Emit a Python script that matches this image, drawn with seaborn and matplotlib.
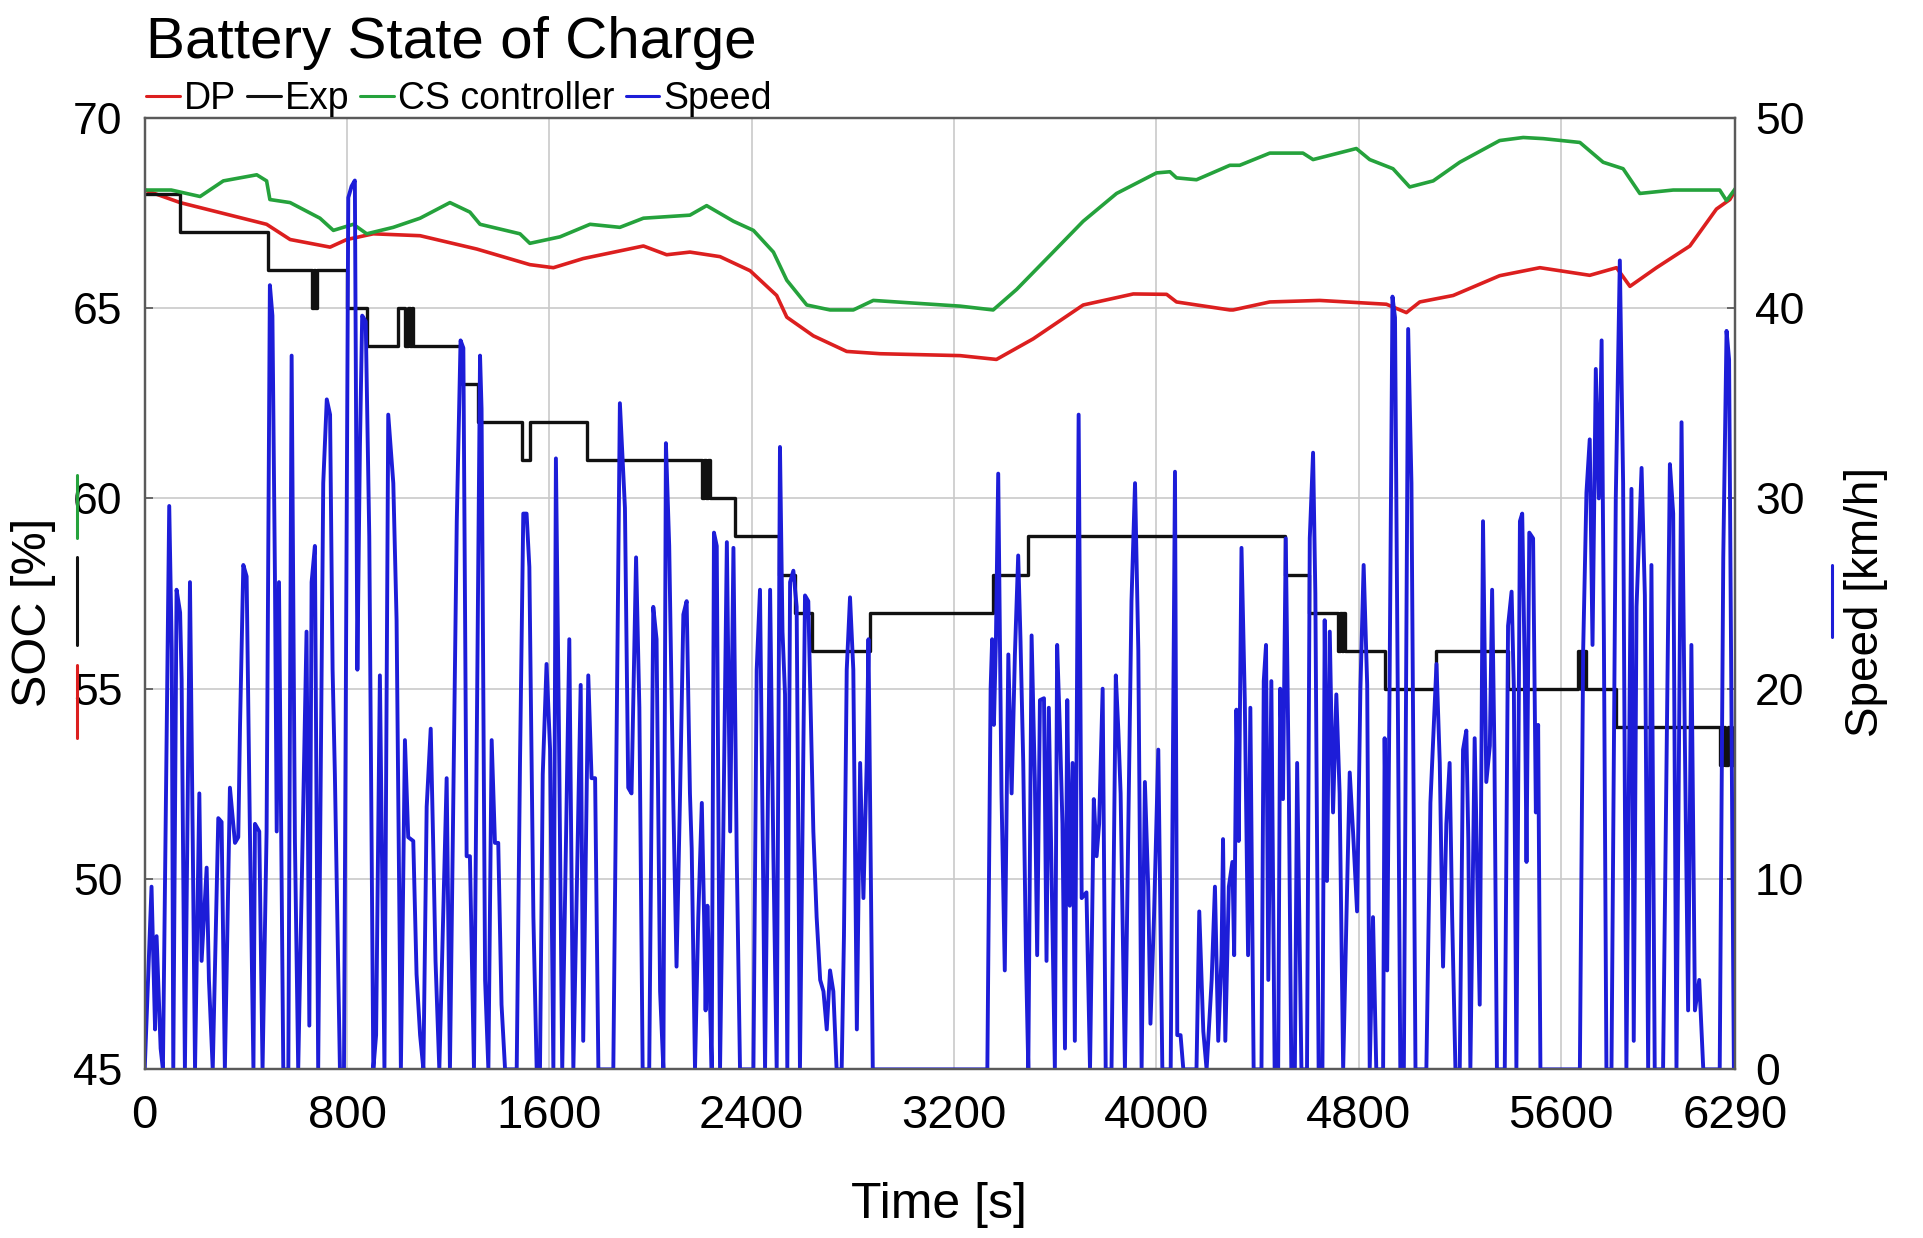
import matplotlib
matplotlib.use("Agg")
import matplotlib.pyplot as plt
from matplotlib.lines import Line2D
import seaborn as sns
import pandas as pd

# ---------------- data ----------------
dp_t = [0, 140, 482, 575, 733, 799, 904, 1089, 1313, 1523, 1616, 1734, 1972, 2064, 2156, 2275,
        2394, 2499, 2539, 2644, 2776, 2908, 3224, 3368, 3513, 3711, 3909, 4041, 4080, 4291, 4304,
        4449, 4646, 4910, 4989, 5042, 5174, 5358, 5517, 5714, 5820, 5873, 5978, 6110, 6215, 6268, 6290]
dp_soc = [68.1, 67.77, 67.2, 66.8, 66.6, 66.8, 66.95, 66.9, 66.55, 66.14, 66.06, 66.3, 66.63, 66.4,
          66.47, 66.35, 65.98, 65.33, 64.76, 64.27, 63.86, 63.8, 63.75, 63.65, 64.19, 65.08, 65.37,
          65.36, 65.16, 64.95, 64.95, 65.16, 65.2, 65.1, 64.88, 65.16, 65.33, 65.85, 66.06, 65.86,
          66.06, 65.57, 66.06, 66.63, 67.6, 67.85, 68.1]

cs_t = [0, 105, 219, 311, 443, 482, 495, 575, 693, 746, 825, 878, 983, 1089, 1207, 1286, 1326, 1484,
        1523, 1642, 1761, 1879, 1972, 2156, 2222, 2328, 2407, 2486, 2539, 2618, 2710, 2802, 2881,
        3224, 3355, 3448, 3579, 3711, 3843, 4001, 4054, 4080, 4159, 4291, 4330, 4449, 4580, 4620,
        4791, 4844, 4936, 5002, 5095, 5200, 5358, 5451, 5530, 5675, 5767, 5846, 5912, 6044, 6228,
        6255, 6290]
cs_soc = [68.1, 68.1, 67.93, 68.34, 68.5, 68.34, 67.85, 67.77, 67.36, 67.04, 67.2, 66.95, 67.12,
          67.36, 67.77, 67.52, 67.2, 66.95, 66.7, 66.87, 67.2, 67.12, 67.36, 67.44, 67.69, 67.28,
          67.04, 66.47, 65.73, 65.08, 64.95, 64.95, 65.2, 65.05, 64.95, 65.49, 66.38, 67.28, 68.01,
          68.55, 68.58, 68.42, 68.37, 68.75, 68.75, 69.07, 69.07, 68.9, 69.19, 68.9, 68.66, 68.18,
          68.34, 68.83, 69.4, 69.48, 69.45, 69.35, 68.83, 68.66, 68.01, 68.1, 68.1, 67.82, 68.14]

exp_t = [0, 140, 489, 660, 668, 673, 680, 801, 878, 1000, 1030, 1040, 1050, 1056, 1062, 1253, 1319,
         1490, 1523, 1748, 2203, 2212, 2220, 2228, 2235, 2334, 2510, 2570, 2640, 2868, 3355, 3494,
         4508, 4604, 4719, 4726, 4733, 4740, 4746, 4903, 5108, 5391, 5668, 5680, 5690, 5701, 5817,
         6228, 6240, 6250, 6262, 6275, 6290]
exp_soc = [68, 67, 66, 65, 66, 65, 66, 65, 64, 65, 64, 65, 64, 65, 64, 63, 62, 61, 62, 61, 60, 61,
           60, 61, 60, 59, 58, 57, 56, 57, 58, 59, 58, 57, 56, 57, 56, 57, 56, 55, 56, 55, 56, 55,
           56, 55, 54, 53, 54, 53, 54, 53, 53]

speed_t = [0, 27, 41, 47, 63, 72, 97, 107, 113, 126, 140, 146, 159, 179, 190, 199, 216, 225, 245,
           254, 269, 291, 304, 317, 337, 357, 370, 377, 390, 403, 416, 430, 436, 453, 466, 482, 495,
           505, 515, 522, 531, 548, 568, 581, 594, 607, 640, 651, 660, 673, 686, 706, 720, 733, 743,
           752, 772, 788, 805, 818, 831, 841, 851, 860, 874, 888, 904, 915, 930, 948, 963, 983, 996,
           1013, 1029, 1042, 1062, 1075, 1089, 1102,
           1115, 1131, 1141, 1150, 1165, 1194, 1207, 1234, 1249, 1260, 1273, 1286, 1302, 1326, 1332,
           1346, 1359, 1372, 1385, 1398, 1411, 1425, 1471, 1484, 1497, 1510, 1521, 1537, 1550, 1563,
           1574, 1589, 1603, 1616, 1626, 1638, 1651, 1679, 1695, 1724, 1734, 1754, 1767, 1781, 1794,
           1853, 1879, 1899, 1912, 1925, 1943, 1956, 1969, 1995, 2011, 2024, 2038, 2051, 2061, 2074,
           2090, 2103, 2117, 2130, 2143, 2150, 2156,
           2163, 2176, 2189, 2203, 2212, 2218, 2225, 2233, 2242, 2251, 2262, 2275, 2288, 2302, 2315,
           2328, 2341, 2354, 2407, 2420, 2433, 2444, 2453, 2473, 2486, 2499, 2512, 2522, 2532, 2541,
           2552, 2565, 2578, 2591, 2611, 2624, 2644, 2657, 2671, 2684, 2697, 2710, 2723, 2736, 2756,
           2765, 2776, 2789, 2802, 2816, 2829, 2842, 2855, 2862, 2879,
           3332, 3345, 3351, 3358, 3366, 3375, 3388, 3401, 3415, 3428, 3441, 3454, 3463, 3474, 3485,
           3494, 3507, 3520, 3529, 3540, 3556, 3566, 3575, 3586, 3599, 3608, 3619, 3629, 3639, 3648,
           3658, 3669, 3678, 3693, 3705, 3724, 3738, 3753, 3764, 3774, 3788, 3800, 3823, 3840, 3850,
           3859, 3876, 3902, 3916, 3929, 3942, 3955, 3968, 3977, 3991, 4008, 4024, 4057, 4074, 4083,
           4096, 4107, 4159, 4170, 4186, 4199, 4219, 4232, 4245,
           4258, 4264, 4273, 4287, 4301, 4308, 4317, 4326, 4337, 4350, 4363, 4372, 4385, 4416, 4425,
           4434, 4443, 4455, 4468, 4482, 4490, 4501, 4512, 4524, 4534, 4548, 4557, 4574, 4596, 4607,
           4620, 4629, 4642, 4657, 4666, 4675, 4686, 4699, 4712, 4725, 4739, 4752, 4765, 4778, 4794,
           4807, 4820, 4834, 4844, 4857, 4870, 4897, 4903, 4913, 4923, 4934, 4944, 4956, 4965, 4979,
           4996, 5009, 5025, 5068, 5084, 5108, 5121, 5134, 5147, 5160, 5170, 5183, 5200, 5213, 5226,
           5234, 5242, 5259, 5279, 5292, 5305, 5319, 5328, 5337, 5347,
           5378, 5391, 5405, 5414, 5424, 5438, 5447, 5457, 5464, 5475, 5490, 5501, 5510, 5519, 5675,
           5688, 5701, 5714, 5725, 5738, 5750, 5761, 5770, 5780, 5800, 5817, 5833, 5846, 5859, 5879,
           5888, 5899, 5919, 5932, 5945, 5958, 5971, 6004, 6031, 6044, 6057, 6077, 6090, 6103, 6116,
           6130, 6147, 6163, 6228, 6242, 6255, 6265, 6284, 6290]
speed_kmh = [0, 9.6, 2.1, 7, 1.1, 0, 29.6, 22, 0, 25.2, 24, 20.5, 0, 25.6, 12, 0, 14.5, 5.7, 10.6,
             4.7, 0, 13.2, 13, 0, 14.8, 11.9, 12.2, 18.1, 26.5, 25.9, 12.5, 0, 12.9, 12.5, 0, 12.5,
             41.2, 39.6, 25.9, 12.5, 25.6, 0, 0, 37.5, 12, 0, 23, 2.3, 25.6, 27.5, 0, 30.8, 35.2,
             34.4, 21, 15.5, 0, 0, 45.8, 46.4, 46.7, 21, 32.7, 39.6, 39.3, 28, 0, 1.8, 20.7, 0, 34.4,
             30.8, 23.6, 0, 17.3, 12.2, 12, 5, 1.8, 0,
             13.8, 17.9, 11.7, 5.7, 0, 15.3, 0, 28.8, 38.3, 37.9, 11.2, 11.2, 0, 37.5, 34.7,
             4.7, 0, 17.3, 11.9, 11.9, 3.4, 0, 0, 16.1, 29.2, 29.2, 26.4, 8, 0, 0,
             15.5, 21.3, 16.8, 0, 32.1, 17.8, 0, 22.6, 0, 20.2, 1.5, 20.7, 15.3, 15.3, 0,
             0, 35, 29.5, 14.8, 14.5, 26.9, 19, 0, 0, 24.3, 22.6, 4.1, 0, 32.9, 27.5,
             14.2, 5.4, 14.5, 23.9, 24.6, 19, 14.5,
             11.6, 0, 8, 14, 8, 3.1, 8.6, 4.7, 0, 28.2, 27.5, 0, 12.5, 27.7, 12.5,
             27.4, 11.2, 0, 0, 21, 25.2, 12, 0, 25.2, 11.2, 0, 32.7, 23, 19.7, 0,
             25.6, 26.2, 24.3, 0, 24.9, 24.6, 12.5, 8, 4.7, 4.1, 2.1, 5.2, 4.1, 0, 0,
             7, 21, 24.8, 21, 2.1, 16.1, 9, 16.1, 22.6, 0,
             0, 20, 22.6, 18.1, 22.6, 31.3, 14.5, 5.2, 21.8, 14.5, 21.8, 27, 22.6, 16.1, 5.7,
             0, 22.8, 15.1, 6, 19.4, 19.5, 5.7, 19, 10.3, 0, 22.3, 17.8, 12.9, 1.1, 19.4,
             8.6, 16.1, 1.5, 34.4, 9, 9.3, 0, 14.2, 11.2, 12.9, 20, 0, 0, 20.7, 17.8,
             14.5, 0, 24.6, 30.8, 22, 0, 15.1, 9.6, 2.4, 8, 16.8, 0, 0, 31.4, 1.8,
             1.8, 0, 0, 8.3, 2, 0, 4.7, 9.6, 1.5,
             6, 12.1, 1.5, 9.6, 10.9, 6, 18.9, 12, 27.4, 19.4, 6, 19, 0, 0, 20.4,
             22.3, 4.7, 20.4, 0, 0, 20, 14.2, 27.9, 15, 0, 0, 16.1, 0, 0, 27.9,
             32.4, 25, 0, 0, 23.6, 9.9, 23, 13.5, 19.7, 14.5, 0, 8, 15.6, 12.5, 8.3,
             19.9, 26.5, 20.2, 0, 8, 0, 0, 17.4, 5.2, 21, 40.6, 39.5, 17.8, 0, 0,
             38.9, 30.8, 0, 0, 14, 21.3, 16.1, 5.4, 12.9, 16.1, 8, 0, 0, 16.8, 17.8,
             12, 0, 17.4, 3.4, 28.8, 15.1, 17, 25.2, 16.8, 0,
             0, 23.3, 25.1, 20, 0, 28.8, 29.2, 21, 10.9, 28.2, 27.9, 13.5, 18.1, 0, 0,
             22, 30.3, 33.1, 22.3, 36.8, 30, 38.3, 22.6, 0, 0, 30, 42.5, 30.8, 0, 30.5,
             1.5, 24.3, 31.6, 24.9, 0, 26.5, 0, 0, 31.8, 29.2, 0, 34, 17.4, 3.1, 22.3,
             3.1, 4.7, 0, 0, 26.9, 38.8, 37.3, 0, 0]

x_ticks = [0, 800, 1600, 2400, 3200, 4000, 4800, 5600, 6290]
soc_ticks = [45, 50, 55, 60, 65, 70]
speed_ticks = [0, 10, 20, 30, 40, 50]

# ---------------- style ----------------
sns.set_theme(style="white")
plt.rcParams["font.family"] = ["Liberation Sans", "DejaVu Sans"]
plt.rcParams["text.color"] = "black"
plt.rcParams["xtick.color"] = "black"
plt.rcParams["ytick.color"] = "black"

C_RED = "#dc1f1f"
C_GREEN = "#25a23c"
C_BLACK = "#111111"
C_BLUE = "#1d1dd8"

W, H = 1923, 1238
fig = plt.figure(figsize=(W / 100, H / 100), dpi=100)
fig.patch.set_facecolor("white")
L, R, T, B = 144.7, 1735.4, 117.7, 1069.4
ax = fig.add_axes([L / W, 1 - B / H, (R - L) / W, (B - T) / H])
ax2 = ax.twinx()

dp_df = pd.DataFrame({"t": dp_t, "soc": dp_soc})
cs_df = pd.DataFrame({"t": cs_t, "soc": cs_soc})
exp_df = pd.DataFrame({"t": exp_t, "soc": exp_soc})
sp_df = pd.DataFrame({"t": speed_t, "v": speed_kmh})

sns.lineplot(data=dp_df, x="t", y="soc", ax=ax, color=C_RED, lw=2.6,
             estimator=None, sort=False, label="DP", legend=False)
sns.lineplot(data=exp_df, x="t", y="soc", ax=ax, color=C_BLACK, lw=2.4,
             estimator=None, sort=False, drawstyle="steps-post", label="Exp", legend=False)
sns.lineplot(data=cs_df, x="t", y="soc", ax=ax, color=C_GREEN, lw=2.6,
             estimator=None, sort=False, label="CS controller", legend=False)
sns.lineplot(data=sp_df, x="t", y="v", ax=ax2, color=C_BLUE, lw=2.8,
             estimator=None, sort=False, label="Speed", legend=False)

ax.set_xlim(0, 6290)
ax.set_ylim(45, 70)
ax2.set_ylim(0, 50)
ax.set_xticks(x_ticks)
ax.set_xticklabels([str(v) for v in x_ticks])
ax.set_yticks(soc_ticks)
ax2.set_yticks(speed_ticks)

ax.grid(True, color="#c9c9c9", lw=1.2)
ax2.grid(False)
ax.set_axisbelow(True)

for a in (ax, ax2):
    for s in a.spines.values():
        s.set_color("#5a5a5a")
        s.set_linewidth(1.6)

ax.tick_params(axis="x", labelsize=34, pad=18, direction="in", length=6, color="#5a5a5a",
               labelcolor="black")
ax.tick_params(axis="y", labelsize=32, pad=16, direction="in", length=6, color="#5a5a5a",
               labelcolor="black")
ax2.tick_params(axis="y", labelsize=32, pad=14, direction="in", length=6, color="#5a5a5a",
                labelcolor="black")

ax.set_xlabel("")
ax.set_ylabel("")
ax2.set_ylabel("")

# axis labels
fig.text(939 / W, 1 - 1205 / H, "Time [s]", fontsize=36, ha="center", va="center", color="black")
fig.text(34 / W, 1 - 612 / H, "SOC [%]", fontsize=35, rotation=90, ha="center", va="center",
         color="black")
fig.text(1866 / W, 1 - 602 / H, "Speed [km/h]", fontsize=33, rotation=90, ha="center",
         va="center", color="black")

# label colour sticks
for (y0, y1, c) in [(475, 538, C_GREEN), (557, 645, C_BLACK), (665, 738, C_RED)]:
    fig.add_artist(Line2D([77 / W, 77 / W], [1 - y0 / H, 1 - y1 / H],
                          transform=fig.transFigure, color=c, lw=2.2))
fig.add_artist(Line2D([1832 / W, 1832 / W], [1 - 565 / H, 1 - 637 / H],
                      transform=fig.transFigure, color=C_BLUE, lw=2.2))

# title
fig.text(146 / W, 1 - 58 / H, "Battery State of Charge", fontsize=42, ha="left", va="baseline",
         color="black")

# legend
handles = [Line2D([], [], color=C_RED, lw=2.2), Line2D([], [], color=C_BLACK, lw=2.2),
           Line2D([], [], color=C_GREEN, lw=2.2), Line2D([], [], color=C_BLUE, lw=2.2)]
leg = fig.legend(handles, ["DP", "Exp", "CS controller", "Speed"], loc="lower left",
                 bbox_to_anchor=(146 / W, 1 - 117 / H), ncol=4, frameon=False, fontsize=27,
                 handlelength=0.9, handletextpad=0.1, columnspacing=0.3, borderpad=0,
                 borderaxespad=0)
for txt in leg.get_texts():
    txt.set_color("black")

fig.savefig("out.png", dpi=100, facecolor="white")
